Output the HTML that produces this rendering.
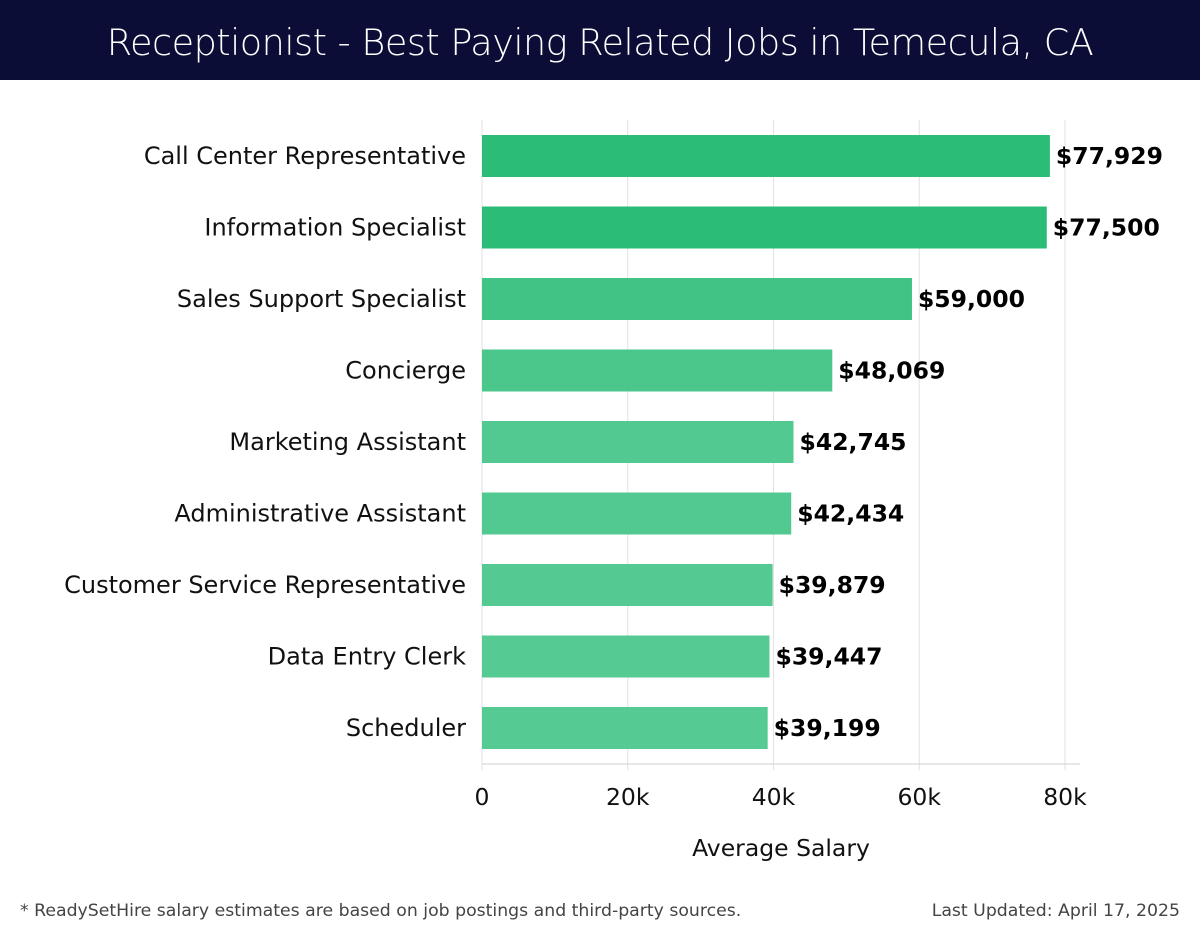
<!DOCTYPE html>
<html><head><meta charset="utf-8"><style>
body{margin:0;width:1200px;height:940px;background:#fff;font-family:"DejaVu Sans","Liberation Sans",sans-serif;overflow:hidden}
#hdr{position:absolute;left:0;top:0;width:1200px;height:80px;background:#0b0d36;color:#fff;font-size:36.6px;text-align:center;line-height:86px;font-family:"DejaVu Sans",sans-serif;font-weight:200;letter-spacing:-0.5px}
.foot{position:absolute;top:901px;font-size:17.3px;color:#444;font-family:"DejaVu Sans",sans-serif}
</style></head><body>
<div id="hdr">Receptionist - Best Paying Related Jobs in Temecula, CA</div>
<svg id="c" width="1200" height="940" style="position:absolute;left:0;top:0"></svg>
<div class="foot" style="left:20px">* ReadySetHire salary estimates are based on job postings and third-party sources.</div>
<div class="foot" style="right:20px">Last Updated: April 17, 2025</div>
<script>
const categories=["Call Center Representative","Information Specialist","Sales Support Specialist","Concierge","Marketing Assistant","Administrative Assistant","Customer Service Representative","Data Entry Clerk","Scheduler"];
const values=[77929,77500,59000,48069,42745,42434,39879,39447,39199];
const valueLabels=["$77,929","$77,500","$59,000","$48,069","$42,745","$42,434","$39,879","$39,447","$39,199"];
const ticks=[0,20000,40000,60000,80000];
const tickLabels=["0","20k","40k","60k","80k"];
const svg=document.getElementById('c');const NS="http://www.w3.org/2000/svg";
const x=v=>482+v*(1065-482)/80000;
const y=i=>156+i*71.5;
function mk(t,a,txt){const e=document.createElementNS(NS,t);for(const k in a)e.setAttribute(k,a[k]);if(txt!=null)e.textContent=txt;svg.appendChild(e);return e;}
ticks.forEach((t,i)=>{
 const g=mk('line',{x1:x(t),x2:x(t),y1:120,y2:770,stroke:'#e2e2e2','stroke-width':1});
 
 
 const l=mk('text',{x:x(t),y:805,'font-size':23.5,'text-anchor':'middle',fill:'#111'},tickLabels[i]);
 
 
});
const ax=mk('line',{x1:482,x2:1080,y1:764,y2:764,stroke:'#d0d0d0','stroke-width':1});


const mx=Math.max(...values);
values.forEach((v,i)=>{
 const f=0.8+0.2*((v-39000)/(mx-39000));
 const r=Math.round(255-(255-43)*f),gg=Math.round(255-(255-189)*f),b=Math.round(255-(255-119)*f);
 const bar=mk('rect',{x:482,y:y(i)-21,width:x(v)-482,height:42,fill:`rgb(${r},${gg},${b})`});
 
 
 const c=mk('text',{x:466,y:y(i)+8,'font-size':24,'text-anchor':'end',fill:'#111'},categories[i]);
 
 
 const vl=mk('text',{x:x(v)+6,y:y(i)+8,'font-size':23.5,'font-weight':'bold',fill:'#000'},valueLabels[i]);
 
 
});
const at=mk('text',{x:781,y:856,'font-size':23.5,'text-anchor':'middle',fill:'#111'},'Average Salary');


</script>
</body></html>
